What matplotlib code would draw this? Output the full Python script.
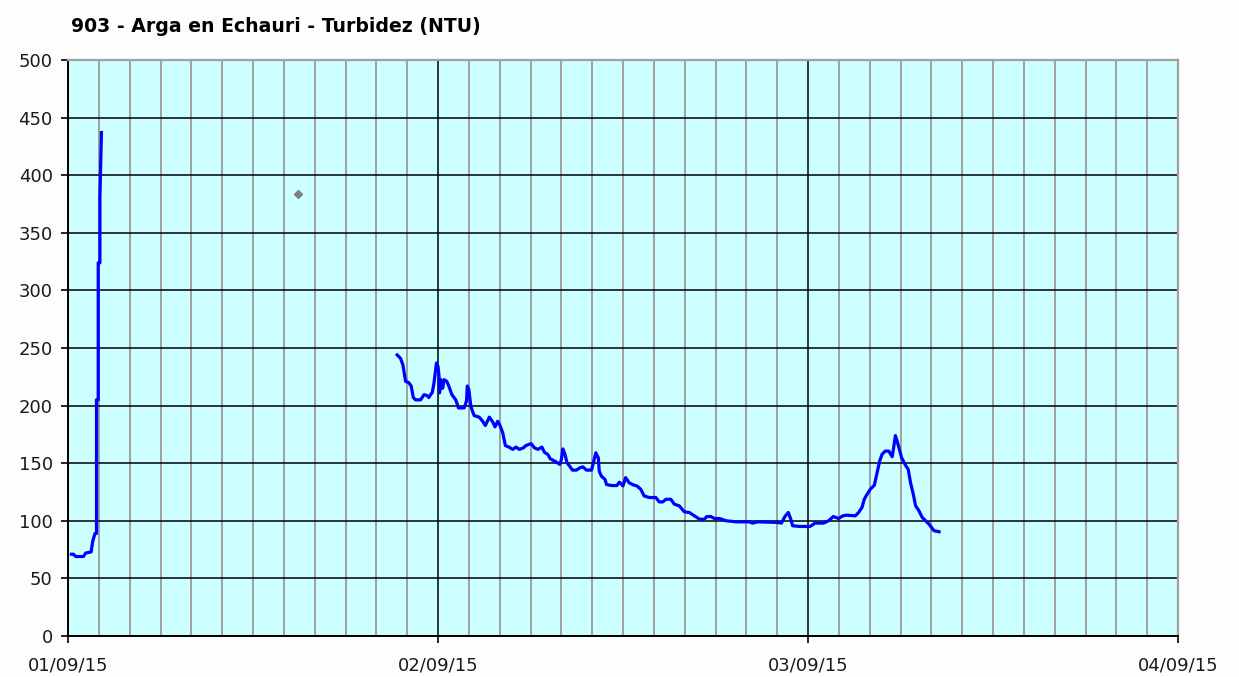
import matplotlib
matplotlib.use("Agg")
import matplotlib.pyplot as plt
import matplotlib.dates as mdates
import numpy as np
import pandas as pd

# hours after 01/09/15 00:00 and turbidity (NTU), first burst
hours_a = [0.22, 0.35, 0.5, 1.0, 1.15, 1.5, 1.6, 1.75, 1.85, 1.85, 1.96, 1.96, 2.07, 2.07, 2.17]
ntu_a = [71, 71, 69, 69, 72, 73, 82, 89, 89, 205, 205, 324, 324, 381, 437]

# second stretch of readings
hours_b = [21.35, 21.57, 21.72, 21.9, 22.1, 22.26, 22.4, 22.54, 22.87, 23.1, 23.3, 23.4,
           23.63, 23.74, 23.9, 24.0, 24.07, 24.1, 24.2, 24.3, 24.4, 24.57, 24.7, 24.9,
           25.15, 25.33, 25.7, 25.85, 25.9, 26.0, 26.13, 26.24, 26.35, 26.67, 26.9, 27.07,
           27.33, 27.54, 27.7, 27.87, 28.0, 28.2, 28.37, 28.6, 28.85, 29.06, 29.28, 29.54,
           29.7, 30.04, 30.26, 30.48, 30.74, 30.9, 31.13, 31.28, 31.46, 31.67, 31.9, 32.0,
           32.1, 32.24, 32.37, 32.54, 32.72, 32.98, 33.2, 33.4, 33.63, 33.96, 34.1, 34.24,
           34.4, 34.46, 34.6, 34.83, 34.93, 35.26, 35.6, 35.76, 36.0, 36.17, 36.4, 36.7,
           36.9, 37.15, 37.37, 37.7, 38.13, 38.35, 38.57, 38.8, 39.1, 39.33, 39.65, 39.98,
           40.3, 40.63, 40.96, 41.28, 41.43, 41.7, 41.93, 42.26, 42.7, 43.35, 44.2, 44.4,
           44.76, 45.96, 46.28, 46.5, 46.72, 46.87, 47.0, 47.48, 48.13, 48.46, 49.0, 49.33,
           49.65, 49.98, 50.26, 50.52, 51.07, 51.28, 51.5, 51.65, 51.83, 52.04, 52.3, 52.48,
           52.65, 52.8, 53.0, 53.24, 53.46, 53.57, 53.67, 53.78, 53.9, 54.07, 54.33, 54.5,
           54.65, 54.83, 54.98, 55.2, 55.41, 55.63, 55.85, 56.17, 56.5]
ntu_b = [244, 241, 235.5, 221, 220, 217, 207, 205, 205, 209.5, 208.7, 207,
         211.6, 219.6, 237, 234, 225.4, 211, 222.5, 215, 222.5, 221, 217, 209.5,
         205, 198, 198, 204, 217, 214, 199.4, 195, 191.3, 190, 186.4, 182.7,
         190, 186, 181.5, 186.4, 183.5, 176.3, 165.3, 164, 162, 164, 162, 163.3,
         165.3, 167, 163.3, 162, 164, 159.5, 157.5, 153.8, 152.6, 151, 149, 153,
         162.4, 157.5, 150.3, 147.4, 144, 144, 146, 146.8, 144, 144, 151.7, 159,
         154.6, 143, 138.7, 136, 131.5, 130.6, 130.6, 133.5, 130.3, 137.5, 133, 131,
         130.3, 127.4, 121.6, 120.2, 120.2, 116.4, 116.4, 118.7, 118.7, 114.4, 113, 107.8,
         107.2, 104.3, 101.4, 101.4, 103.7, 103.7, 102, 102, 100, 99.1, 99.1, 98,
         99.1, 98.6, 98, 103.7, 107.2, 102, 95.7, 95.1, 95.1, 98, 98, 100,
         103.7, 102, 104.3, 104.9, 104.3, 107.2, 111.5, 118.7, 123, 127.4, 130.8, 141.8,
         151.9, 157.6, 160.5, 160.5, 155.6, 164.8, 174, 169.2, 163.4, 154.8, 148.1, 144.7,
         133.1, 123, 113, 108.6, 102.9, 100, 97.1, 91.4, 90.5]

# lone grey point
hours_pt = [14.92]
ntu_pt = [384]

start = pd.Timestamp("2015-09-01")
to_time = lambda h: start + pd.to_timedelta(np.array(h), unit="h")

fig = plt.figure(figsize=(12.39, 6.77), dpi=100, facecolor="#fdfdfd")
ax = fig.add_axes([68 / 1239, 1 - 636 / 677, 1110 / 1239, 576 / 677])
ax.set_facecolor("#ccffff")

ax.plot(to_time(hours_a), ntu_a, color="#0000ff", lw=2.3, zorder=3)
ax.plot(to_time(hours_b), ntu_b, color="#0000ff", lw=2.3, zorder=3)
ax.plot(to_time(hours_pt), ntu_pt, marker="D", ms=4.5, color="#808080", ls="none", zorder=3)

ax.set_xlim(start, start + pd.Timedelta(days=3))
ax.set_ylim(0, 500)
ax.set_yticks(np.arange(0, 501, 50))
ax.xaxis.set_major_locator(mdates.DayLocator())
ax.xaxis.set_minor_locator(mdates.HourLocator(interval=2))
ax.xaxis.set_major_formatter(mdates.DateFormatter("%d/%m/%y"))

ax.set_axisbelow(True)
ax.grid(which="minor", axis="x", color="#a0a0a0", lw=1.4)
ax.grid(which="major", axis="x", color="#000000", lw=1.1)
ax.grid(which="major", axis="y", color="#000000", lw=1.1)

ax.tick_params(which="minor", length=0)
ax.tick_params(which="major", length=5, width=1.2, colors="#000000", labelsize=13,
               labelcolor="#1a1a1a")
ax.tick_params(axis="x", pad=10)
ax.tick_params(axis="y", pad=6)

for s in ["left", "bottom"]:
    ax.spines[s].set_color("#000000")
    ax.spines[s].set_linewidth(1.4)
for s in ["top", "right"]:
    ax.spines[s].set_color("#a0a0a0")
    ax.spines[s].set_linewidth(1.6)

fig.text(71 / 1239, 1 - 26 / 677, "903 - Arga en Echauri - Turbidez (NTU)",
         fontsize=13.6, fontweight="bold", color="#000000", va="center", ha="left")

fig.savefig("out.png", dpi=100, facecolor=fig.get_facecolor())
